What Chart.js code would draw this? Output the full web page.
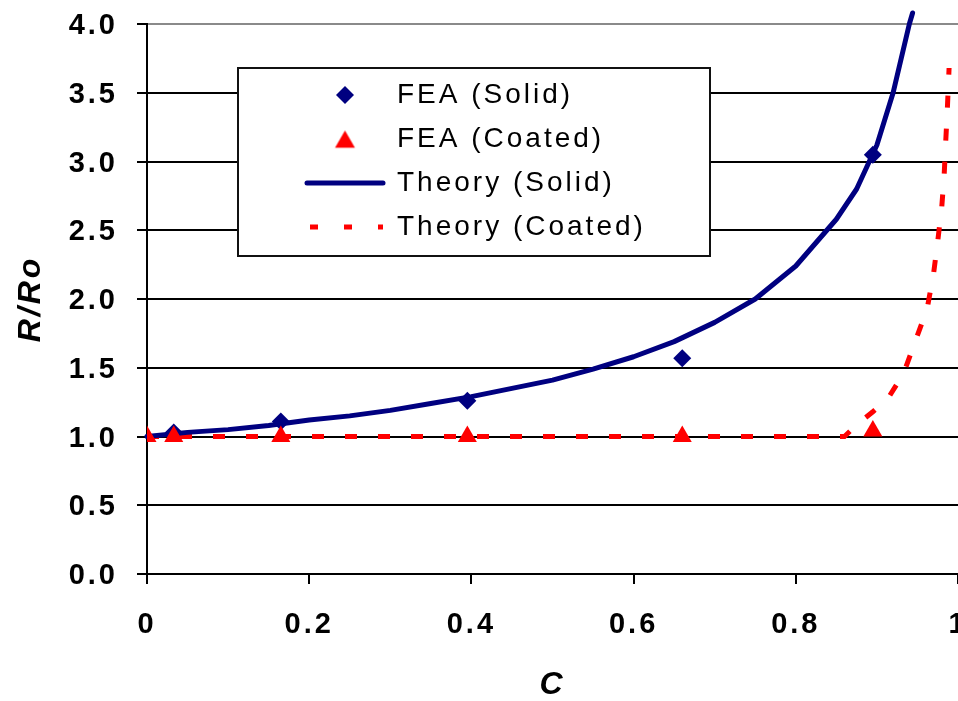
<!DOCTYPE html>
<html>
<head>
<meta charset="utf-8">
<style>
  html, body { margin: 0; padding: 0; overflow: hidden; background: #fff; }
  #wrap { position: relative; width: 1000px; height: 701px; }
</style>
<script src="https://cdn.jsdelivr.net/npm/chart.js@4/dist/chart.umd.min.js"></script>
</head>
<body>
<div id="wrap"><canvas id="c"></canvas></div>
<script>
// ---- data ----
const feaSolidC   = [0.033, 0.165, 0.395, 0.66, 0.895];
const feaSolidR   = [1.03, 1.11, 1.26, 1.57, 3.05];
const feaCoatedC  = [0, 0.033, 0.165, 0.395, 0.66, 0.895];
const feaCoatedR  = [1.00, 1.00, 1.00, 1.00, 1.00, 1.04];
const theorySolidC = [0, 0.05, 0.1, 0.15, 0.2, 0.25, 0.3, 0.35, 0.4, 0.45, 0.5, 0.55, 0.6, 0.65, 0.7, 0.75, 0.8, 0.85, 0.875, 0.9, 0.92, 0.94, 0.944];
const theorySolidR = [1.00, 1.03, 1.05, 1.08, 1.12, 1.15, 1.19, 1.24, 1.29, 1.35, 1.41, 1.49, 1.58, 1.69, 1.83, 2.00, 2.24, 2.58, 2.80, 3.12, 3.50, 4.00, 4.08];
const theoryCoatedC = [0, 0.1, 0.2, 0.3, 0.4, 0.5, 0.6, 0.7, 0.8, 0.86, 0.876, 0.895, 0.914, 0.933, 0.949, 0.962, 0.970, 0.975, 0.980, 0.983, 0.985, 0.987, 0.989];
const theoryCoatedR = [1.00, 1.00, 1.00, 1.00, 1.00, 1.00, 1.00, 1.00, 1.00, 1.00, 1.09, 1.18, 1.28, 1.46, 1.72, 1.93, 2.19, 2.42, 2.67, 2.91, 3.16, 3.40, 3.68];
const seriesLabels = ['FEA (Solid)', 'FEA (Coated)', 'Theory (Solid)', 'Theory (Coated)'];
const xTickValues = [0, 0.2, 0.4, 0.6, 0.8, 1];
const yTickValues = [0, 0.5, 1, 1.5, 2, 2.5, 3, 3.5, 4];

const NAVY = '#000080';
const RED = '#ff0000';
const FONT = "'Liberation Sans', Arial, sans-serif";

function pts(xs, ys) { return xs.map((x, i) => ({ x: x, y: ys[i] })); }

function markerCanvas(style, color, r) {
  const s = Math.ceil(r * 2 + 4);
  const cv = document.createElement('canvas');
  cv.width = s; cv.height = s;
  const c = cv.getContext('2d');
  const m = s / 2;
  c.fillStyle = color;
  c.beginPath();
  if (style === 'rectRot') {
    c.moveTo(m - r, m); c.lineTo(m, m - r); c.lineTo(m + r, m); c.lineTo(m, m + r);
  } else {
    const hw = r * Math.sin(Math.PI / 3);
    c.moveTo(m, m - 0.75 * r); c.lineTo(m + hw, m + 0.75 * r); c.lineTo(m - hw, m + 0.75 * r);
  }
  c.closePath();
  c.fill();
  return cv;
}
const legendMarkers = [markerCanvas('rectRot', NAVY, 9), markerCanvas('triangle', RED, 11.5)];

const legendPlace = {
  id: 'legendPlace',
  beforeUpdate(chart) {
    chart.ctx.letterSpacing = '3px';
    const lg = chart.legend;
    if (lg && !lg._placed) {
      lg._placed = true;
      const fit0 = lg.fit;
      lg.fit = function () { fit0.call(this); this.width = 0; this.height = 0; };
      const draw0 = lg.draw;
      lg.draw = function (area) {
        const b = chart.$legendBox;
        if (b) {
          const c = this.ctx;
          c.save();
          c.fillStyle = '#ffffff';
          c.fillRect(b[0], b[1], b[2] - b[0], b[3] - b[1]);
          c.lineWidth = 2;
          c.strokeStyle = '#111';
          c.strokeRect(b[0], b[1], b[2] - b[0], b[3] - b[1]);
          c.restore();
        }
        draw0.call(this, area);
      };
    }
  },
  afterLayout(chart, args, opts) {
    const lg = chart.legend;
    chart.$legendBox = opts.box;
    lg.left = opts.left; lg.top = opts.top; lg.right = opts.right; lg.bottom = opts.bottom;
    lg.width = opts.right - opts.left; lg.height = opts.bottom - opts.top;
  },
  beforeDraw(chart) { chart.ctx.letterSpacing = '3px'; }
};

const ctx = document.getElementById('c');
new Chart(ctx, {
  type: 'scatter',
  data: {
    datasets: [
      {
        label: seriesLabels[0], data: pts(feaSolidC, feaSolidR), order: 1,
        pointStyle: 'rectRot', pointRadius: 9, pointHoverRadius: 9, pointBorderWidth: 0,
        backgroundColor: NAVY, borderColor: NAVY, pointBackgroundColor: NAVY, showLine: false
      },
      {
        label: seriesLabels[1], data: pts(feaCoatedC, feaCoatedR), order: 0,
        pointStyle: 'triangle', pointRadius: 11, pointHoverRadius: 11, pointBorderWidth: 0,
        backgroundColor: RED, borderColor: RED, pointBackgroundColor: RED, showLine: false
      },
      {
        label: seriesLabels[2], data: pts(theorySolidC, theorySolidR), order: 2,
        showLine: true, pointRadius: 0, pointHoverRadius: 0, borderColor: NAVY, backgroundColor: NAVY,
        borderWidth: 5, borderCapStyle: 'round', borderJoinStyle: 'round', tension: 0, clip: false, fill: false
      },
      {
        label: seriesLabels[3], data: pts(theoryCoatedC, theoryCoatedR), order: 3,
        showLine: true, pointRadius: 0, pointHoverRadius: 0, borderColor: RED, backgroundColor: RED,
        borderWidth: 5, borderDash: [12, 21], borderCapStyle: 'butt', tension: 0, fill: false
      }
    ]
  },
  options: {
    responsive: true,
    maintainAspectRatio: false,
    animation: false,
    events: [],
    layout: { padding: { left: 0, right: 42, top: 24, bottom: 0 } },
    scales: {
      x: {
        type: 'linear', position: 'bottom', min: 0, max: 1,
        afterBuildTicks: (s) => { s.ticks = xTickValues.map(v => ({ value: v })); },
        afterFit: (s) => { s.height = 127; s.paddingLeft = 0; s.paddingRight = 0; },
        grid: { drawOnChartArea: false, drawTicks: true, tickLength: 10, color: '#000', tickColor: '#000', lineWidth: 2 },
        border: { display: true, color: '#000', width: 2 },
        ticks: {
          padding: 24, maxRotation: 0, autoSkip: false, color: '#000',
          font: { family: FONT, size: 29, weight: 'bold' },
          callback: (v) => String(Math.round(v * 10) / 10)
        },
        title: {
          display: true, text: 'C', color: '#000',
          font: { family: FONT, size: 32, weight: 'bold', style: 'italic', lineHeight: 1 },
          padding: { top: 0, bottom: 0 }
        }
      },
      y: {
        type: 'linear', position: 'left', min: 0, max: 4,
        afterBuildTicks: (s) => { s.ticks = yTickValues.map(v => ({ value: v })); },
        afterFit: (s) => { s.width = 147; s.paddingTop = 0; s.paddingBottom = 0; },
        grid: {
          drawOnChartArea: true, drawTicks: true, tickLength: 10, lineWidth: 2,
          color: (c) => (c.tick && c.tick.value === 4 ? '#8a8a8a' : '#000'),
          tickColor: '#000'
        },
        border: { display: true, color: '#000', width: 2 },
        ticks: {
          padding: 19, labelOffset: 2, color: '#000', autoSkip: false,
          font: { family: FONT, size: 29, weight: 'bold' },
          callback: (v) => Number(v).toFixed(1)
        },
        title: {
          display: true, text: 'R/Ro', color: '#000',
          font: { family: FONT, size: 32, weight: 'bold', style: 'italic' },
          padding: { top: 12, bottom: 0 }
        }
      }
    },
    plugins: {
      tooltip: { enabled: false },
      legend: {
        display: true, position: 'left', align: 'start',
        labels: {
          usePointStyle: true, pointStyleWidth: 76, padding: 16, color: '#000',
          font: { family: FONT, size: 28, weight: 'normal' },
          generateLabels: (chart) => chart.data.datasets.map((ds, i) => {
            const isMarker = ds.showLine === false;
            return {
              text: ds.label,
              datasetIndex: i,
              hidden: !chart.isDatasetVisible(i),
              fontColor: '#000',
              fillStyle: ds.backgroundColor,
              strokeStyle: ds.borderColor,
              lineWidth: isMarker ? 0 : ds.borderWidth,
              lineDash: ds.borderDash ? [8, 26] : [],
              lineDashOffset: ds.borderDash ? -3 : 0,
              lineCap: ds.borderDash ? 'butt' : 'round',
              pointStyle: isMarker ? legendMarkers[i] : 'line',
              rotation: 0
            };
          })
        }
      },
      legendPlace: { left: 291, top: 65, right: 710, bottom: 300, box: [238, 68, 710, 256] }
    }
  },
  plugins: [legendPlace]
});
</script>
</body>
</html>
